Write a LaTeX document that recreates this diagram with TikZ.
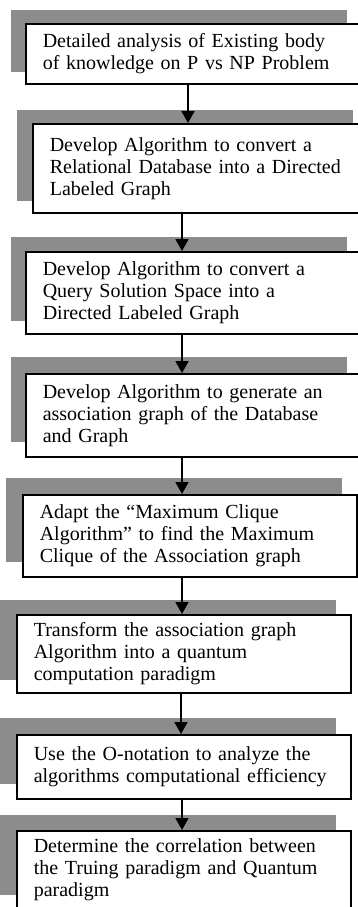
\documentclass[tikz,border=0pt]{standalone}
\usepackage{fontspec}
\setmainfont{Liberation Serif}
\usetikzlibrary{arrows.meta,backgrounds}
\tikzset{
  stepbox/.style={draw=black, line width=1.6pt, fill=white, anchor=north west,
    align=left, inner xsep=17pt, inner ysep=0pt, text width=300pt,
    minimum width=334pt, font=\fontsize{20}{22}\selectfont},
  shadowfill/.style={fill=black!45},
  arr/.style={line width=1.8pt, -{Triangle[width=13pt,length=12pt]}}
}
\begin{document}
\begin{tikzpicture}[x=1pt,y=-1pt]
\useasboundingbox (0,0) rectangle (358,907);
\clip (0,0) rectangle (358,907);
\node[stepbox, minimum height=60pt] (b1) at (25,23) {Detailed analysis of Existing body\\of knowledge on P vs NP Problem};
\node[stepbox, minimum height=89pt] (b2) at (32,123) {Develop Algorithm to convert a\\Relational Database into a Directed\\Labeled Graph};
\node[stepbox, minimum height=82pt] (b3) at (25,251) {Develop Algorithm to convert a\\Query Solution Space into a\\Directed Labeled Graph};
\node[stepbox, minimum height=83pt] (b4) at (25,373) {Develop Algorithm to generate an\\association graph of the Database\\and Graph};
\node[stepbox, minimum height=82pt, minimum width=331pt] (b5) at (22,494) {Adapt the “Maximum Clique\\Algorithm” to find the Maximum\\Clique of the Association graph};
\node[stepbox, minimum height=78pt] (b6) at (16,614) {Transform the association graph\\Algorithm into a quantum\\computation paradigm};
\node[stepbox, minimum height=64pt] (b7) at (16,734) {Use the O-notation to analyze the\\algorithms computational efficiency};
\node[stepbox, minimum height=78pt] (b8) at (16,830) {Determine the correlation between\\the Truing paradigm and Quantum\\paradigm};
\begin{scope}[on background layer]
\fill[shadowfill] ([shift={(-14,-13)}]b1.north west) rectangle ([shift={(-14,-13)}]b1.south east);
\fill[shadowfill] ([shift={(-15,-13)}]b2.north west) rectangle ([shift={(-15,-13)}]b2.south east);
\fill[shadowfill] ([shift={(-14,-14)}]b3.north west) rectangle ([shift={(-14,-14)}]b3.south east);
\fill[shadowfill] ([shift={(-14,-16)}]b4.north west) rectangle ([shift={(-14,-16)}]b4.south east);
\fill[shadowfill] ([shift={(-16,-16)}]b5.north west) rectangle ([shift={(-16,-16)}]b5.south east);
\fill[shadowfill] ([shift={(-16,-14)}]b6.north west) rectangle ([shift={(-16,-14)}]b6.south east);
\fill[shadowfill] ([shift={(-16,-16)}]b7.north west) rectangle ([shift={(-16,-16)}]b7.south east);
\fill[shadowfill] ([shift={(-16,-15)}]b8.north west) rectangle ([shift={(-16,-15)}]b8.south east);
\end{scope}
\draw[arr] ([xshift=163pt]b1.south west) -- ([xshift=156pt]b2.north west);
\draw[arr] ([xshift=150pt]b2.south west) -- ([xshift=157pt]b3.north west);
\draw[arr] ([xshift=157pt]b3.south west) -- ([xshift=157pt]b4.north west);
\draw[arr] ([xshift=157pt]b4.south west) -- ([xshift=160pt]b5.north west);
\draw[arr] ([xshift=160pt]b5.south west) -- ([xshift=166pt]b6.north west);
\draw[arr] ([xshift=165pt]b6.south west) -- ([xshift=165pt]b7.north west);
\draw[arr] ([xshift=166pt]b7.south west) -- ([xshift=166pt]b8.north west);
\end{tikzpicture}
\end{document}
